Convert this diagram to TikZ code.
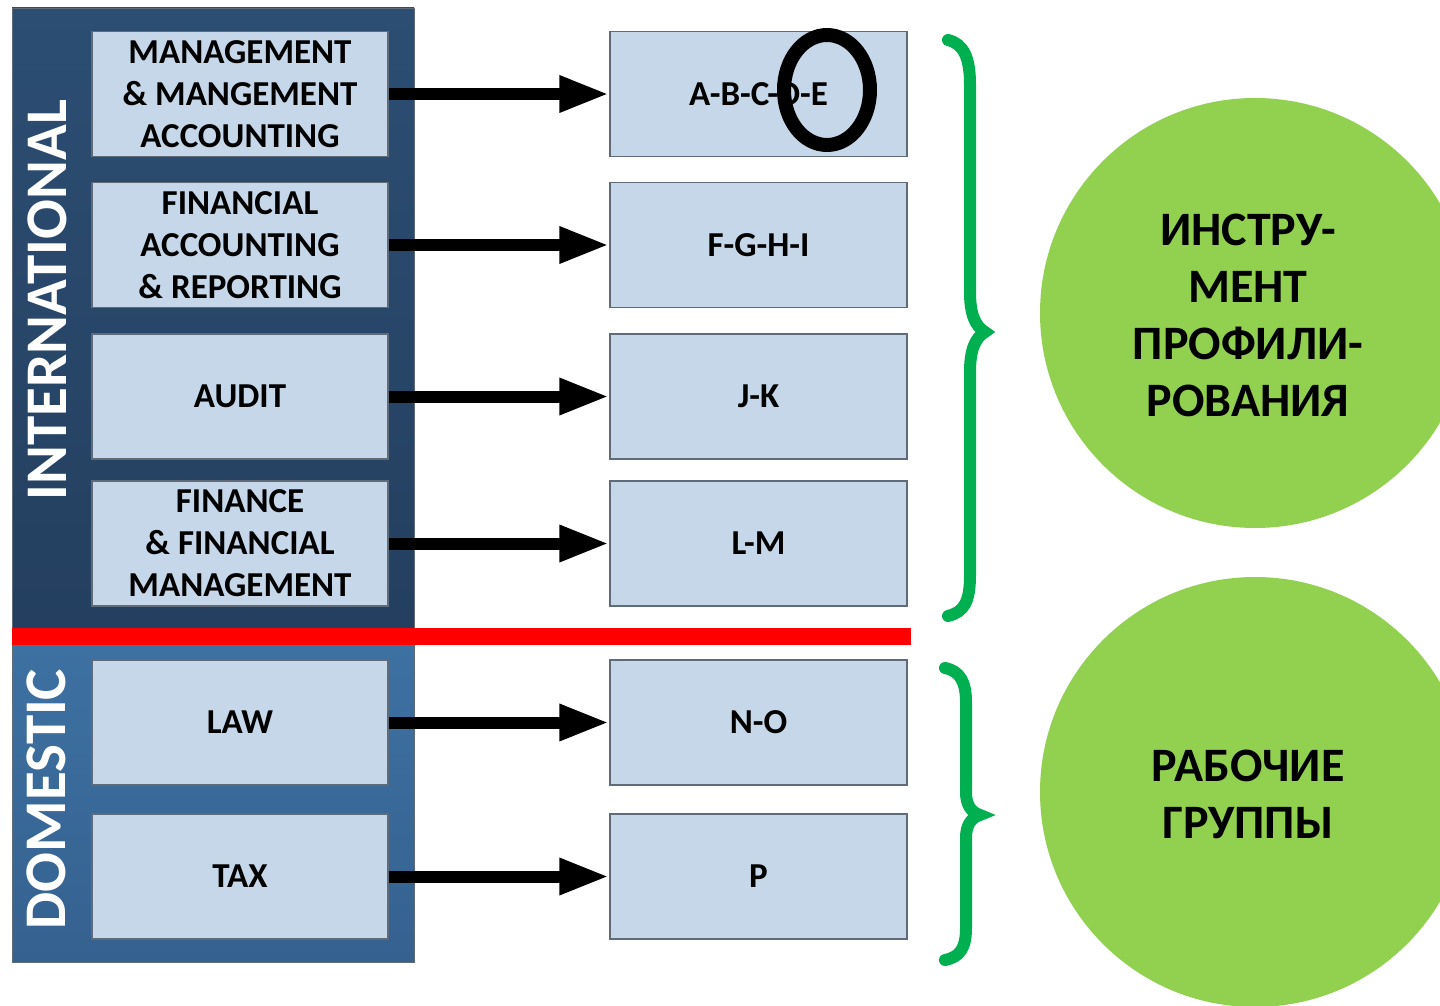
\documentclass[tikz,border=0pt]{standalone}
\usepackage{fontspec}
\setmainfont{Carlito}
\usetikzlibrary{arrows.meta}

\definecolor{intbluetop}{HTML}{2C4E73}
\definecolor{intbluebot}{HTML}{243F5F}
\definecolor{dombluetop}{HTML}{3D71A2}
\definecolor{dombluebot}{HTML}{35618F}
\definecolor{boxfill}{HTML}{C5D7E8}
\definecolor{boxline}{HTML}{5F6B78}
\definecolor{bracegreen}{HTML}{00B050}
\definecolor{circgreen}{HTML}{92D050}

\tikzset{
	subject/.style = {draw=boxline, line width=1.5pt, fill=boxfill,
		minimum width=296pt, minimum height=125pt, inner sep=0pt,
		align=center, font=\bfseries\fontsize{35}{42}\selectfont},
	feed/.style = {line width=12pt, -{Triangle[width=34pt, length=50pt]}},
	bracket/.style = {line width=12pt, line cap=round, color=bracegreen},
	role/.style = {inner sep=0pt, align=center,
		font=\bfseries\fontsize{48}{57}\selectfont},
	side/.style = {rotate=90, text=white, inner sep=0pt,
		font=\bfseries\fontsize{59}{64}\selectfont}
}

\begin{document}
\begin{tikzpicture}[x=1pt, y=-1pt]
\clip (0, 0) rectangle (1440, 1006);
\fill[white] (0, 0) rectangle (1440, 1006);

\fill[draw=boxline, line width=0.8pt,
		top color=intbluetop, bottom color=intbluebot]
	(12, 8) rectangle (414, 628);
\fill[draw=boxline, line width=0.8pt,
		top color=dombluetop, bottom color=dombluebot]
	(12, 645) rectangle (414, 962);
\fill[red] (12, 628) rectangle (911, 645);

\node[side] (intl) at (47, 300) {INTERNATIONAL};
\node[side] (dom) at (46, 799) {DOMESTIC};

\node[subject] (mma) at (240, 94) {MANAGEMENT\\\& MANGEMENT\\ACCOUNTING};
\node[subject] (far) at (240, 245) {FINANCIAL\\ACCOUNTING\\\& REPORTING};
\node[subject] (aud) at (240, 396.5) {AUDIT};
\node[subject] (ffm) at (240, 543.5) {FINANCE\\\& FINANCIAL\\MANAGEMENT};
\node[subject] (law) at (240, 722.5) {LAW};
\node[subject] (tax) at (240, 876.5) {TAX};

\node[subject, minimum width=297pt] (abcde) at (758.5, 94) {A-B-C-D-E};
\node[subject, minimum width=297pt] (fghi) at (758.5, 245) {F-G-H-I};
\node[subject, minimum width=297pt] (jk) at (758.5, 396.5) {J-K};
\node[subject, minimum width=297pt] (lm) at (758.5, 543.5) {L-M};
\node[subject, minimum width=297pt] (no) at (758.5, 722.5) {N-O};
\node[subject, minimum width=297pt] (p) at (758.5, 876.5) {P};

\draw[line width=14pt] (827, 90) ellipse (43pt and 55pt);

\draw[feed] (mma) -- (abcde);
\draw[feed] (far) -- (fghi);
\draw[feed] (aud) -- (jk);
\draw[feed] (ffm) -- (lm);
\draw[feed] (law) -- (no);
\draw[feed] (tax) -- (p);

\draw[bracket] (948, 40) .. controls (964, 44) and (970, 58) ..
	(970, 85) --
	(970, 292) .. controls (970, 314) and (975, 326) ..
	(985, 332) .. controls (975, 338) and (970, 350) ..
	(970, 372) --
	(970, 575) .. controls (970, 602) and (964, 612) ..
	(948, 616);

\draw[bracket] (945, 668) .. controls (960, 671) and (966, 682) ..
	(966, 702) --
	(966, 792) .. controls (966, 805) and (971, 812) ..
	(980, 815) .. controls (971, 818) and (966, 825) ..
	(966, 838) --
	(966, 928) .. controls (966, 948) and (960, 957) ..
	(945, 960);

\fill[circgreen] (1255, 313) circle (215pt);
\fill[circgreen] (1255, 792) circle (215pt);
\node[role] (tool) at (1248, 315) {ИНСТРУ-\\МЕНТ\\ПРОФИЛИ-\\РОВАНИЯ};
\node[role] (groups) at (1248, 794) {РАБОЧИЕ\\ГРУППЫ};

\end{tikzpicture}
\end{document}
